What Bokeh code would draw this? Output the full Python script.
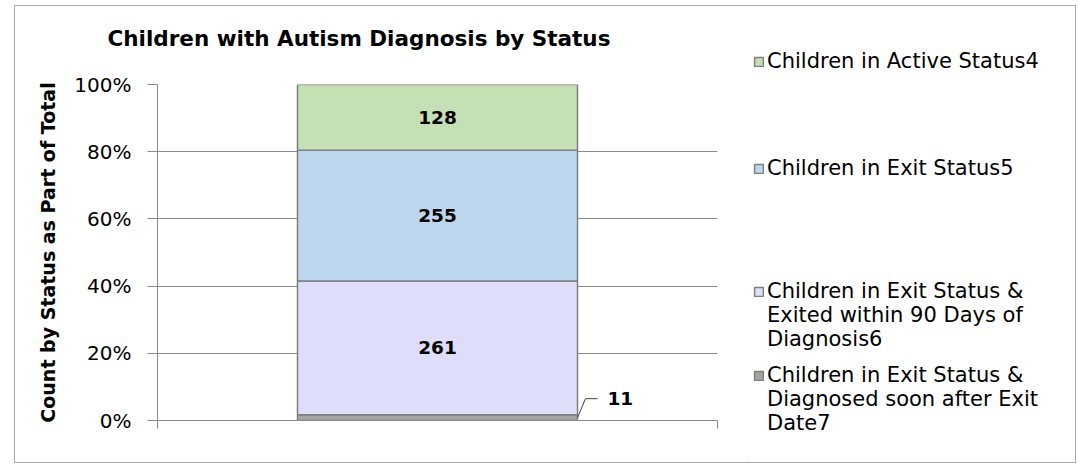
from bokeh.plotting import figure
from bokeh.layouts import row
from bokeh.models import (Range1d, FixedTicker, NumeralTickFormatter, Legend,
                          LegendItem, ColumnDataSource)
from bokeh.core.properties import value
from bokeh.embed import file_html
from bokeh.resources import INLINE

# ---------------- data ----------------
title_text = "Children with Autism Diagnosis by Status"
y_label = "Count by Status as Part of Total"
# stack order: bottom -> top
statuses = [
    "Children in Exit Status & Diagnosed soon after Exit Date7",
    "Children in Exit Status & Exited within 90 Days of Diagnosis6",
    "Children in Exit Status5",
    "Children in Active Status4",
]
legend_lines = [
    ["Children in Exit Status &", "Diagnosed soon after Exit", "Date7"],
    ["Children in Exit Status &", "Exited within 90 Days of", "Diagnosis6"],
    ["Children in Exit Status5"],
    ["Children in Active Status4"],
]
counts = [11, 261, 255, 128]
colors = ["#A5A5A5", "#DEDEFA", "#BDD7EE", "#C5E0B4"]
y_ticks = [0, 0.2, 0.4, 0.6, 0.8, 1.0]

# ---------------- style ----------------
FONT = "DejaVu Sans"
GRID = "#8A8A8A"
OUTLINE = "#7F7F7F"
H = 456
FL, FT, FR = 142, 78, 30
FW, FH = 560, 336
FB = H - FT - FH
W1 = FL + FW + FR
W2 = 1060 - W1

total = sum(counts)
fracs = [c / total for c in counts]
bottoms, tops = [], []
acc = 0.0
for f in fracs:
    bottoms.append(acc)
    acc += f
    tops.append(acc)
mids = [(b + t) / 2 for b, t in zip(bottoms, tops)]
bar_x = 0.5          # centre of the single category (0..1 range)
bar_w = 0.5

src = ColumnDataSource(dict(
    x=[bar_x] * len(counts), bottom=bottoms, top=tops, color=colors,
    mid=mids, label=[str(c) for c in counts], status=statuses,
))

p = figure(width=W1, height=H, x_range=Range1d(0, 1), y_range=Range1d(0, 1),
           output_backend="svg", toolbar_location=None,
           min_border_left=FL, min_border_right=FR,
           min_border_top=FT, min_border_bottom=FB)
p.frame_align = False
p.outline_line_color = None
p.background_fill_color = "white"
p.border_fill_color = "white"

# title (an empty second line lifts the text inside the title panel)
p.title.text = title_text + "\n"
p.title.text_font = FONT
p.title.text_font_size = "21.5px"
p.title.text_font_style = "bold"
p.title.text_color = "#000000"
p.title.align = "left"
p.title.offset = -50
p.title.standoff = 18

# axes
yaxis = p.yaxis[0]
yaxis.ticker = FixedTicker(ticks=y_ticks)
yaxis.formatter = NumeralTickFormatter(format="0%")
yaxis.major_label_text_font = FONT
yaxis.major_label_text_font_size = "20px"
yaxis.major_label_text_color = "#000000"
yaxis.major_label_standoff = 16
yaxis.major_tick_out = 10
yaxis.major_tick_in = 0
yaxis.minor_tick_line_color = None
yaxis.axis_line_color = GRID
yaxis.major_tick_line_color = GRID
yaxis.axis_label = y_label
yaxis.axis_label_text_font = FONT
yaxis.axis_label_text_font_size = "19px"
yaxis.axis_label_text_font_style = "bold"
yaxis.axis_label_text_color = "#000000"
yaxis.axis_label_standoff = 12

xaxis = p.xaxis[0]
xaxis.ticker = FixedTicker(ticks=[0, 1])
xaxis.major_label_overrides = {0: "", 1: ""}
xaxis.major_label_text_font_size = "1px"
xaxis.major_tick_out = 8
xaxis.major_tick_in = 0
xaxis.minor_tick_line_color = None
xaxis.axis_line_color = GRID
xaxis.major_tick_line_color = GRID

p.xgrid.visible = False
p.ygrid.ticker = FixedTicker(ticks=y_ticks)
p.ygrid.grid_line_color = GRID

# bars
bars = p.vbar(x="x", width=bar_w, bottom="bottom", top="top",
              fill_color="color", line_color=OUTLINE, line_width=1.5,
              source=src)

# labels inside large segments
inside = [i for i, f in enumerate(fracs) if f > 0.05]
outside = [i for i, f in enumerate(fracs) if f <= 0.05]
p.text(x=[bar_x] * len(inside), y=[mids[i] for i in inside],
       text=[str(counts[i]) for i in inside],
       text_font=value(FONT), text_font_size="18.5px", text_font_style="bold",
       text_color="#000000", text_align="center", text_baseline="middle")

# callout for small segment(s)
for i in outside:
    xr = bar_x + bar_w / 2
    dx1, dx2, dxt = 8 / FW, 20 / FW, 30 / FW
    dy = 19 / FH
    p.line(x=[xr, xr + dx1, xr + dx2], y=[mids[i], mids[i] + dy, mids[i] + dy],
           line_color="#404040", line_width=1)
    p.text(x=[xr + dxt], y=[mids[i] + dy], text=[str(counts[i])],
           text_font=value(FONT), text_font_size="18.5px", text_font_style="bold",
           text_color="#000000", text_align="left", text_baseline="middle")

# ---------------- legend panel ----------------
pl = figure(width=W2, height=H, x_range=Range1d(0, W2), y_range=Range1d(0, H),
            output_backend="svg", toolbar_location=None,
            x_axis_location=None, y_axis_location=None,
            min_border_left=0, min_border_right=0, min_border_top=0,
            min_border_bottom=0)
pl.frame_align = False
pl.grid.visible = False
pl.outline_line_color = None
pl.background_fill_color = "white"
pl.border_fill_color = "white"

# swatch renderers for the legend (their single bar lies outside the view)
swatches = [pl.vbar(x=[-W2], bottom=[-H], top=[-H + 1], width=1, fill_color=c,
                    line_color=OUTLINE, line_width=1.5) for c in colors]


def legend_text(lines):
    # pad multi-line entries so the swatch sits beside the first line
    pad = ["" for _ in lines[1:]]
    return "\n".join(pad + lines)


leg_x = 6
leg_pos = {3: 389, 2: 282, 1: 111, 0: 27}
for i in [3, 2, 1, 0]:
    lg = Legend(items=[LegendItem(label=legend_text(legend_lines[i]),
                                  renderers=[swatches[i]])],
                location=(leg_x, leg_pos[i]),
                glyph_width=11, glyph_height=11, label_standoff=3,
                padding=0, margin=0, spacing=0, label_height=24,
                border_line_color=None, background_fill_alpha=0,
                label_text_font=FONT, label_text_font_size="21px",
                label_text_color="#000000")
    pl.add_layout(lg, "center")

layout = row(p, pl, styles={"border": "1px solid #ABABAB",
                            "margin-left": "14px", "margin-top": "5px"})

open("out.html", "w").write(file_html(layout, INLINE))
